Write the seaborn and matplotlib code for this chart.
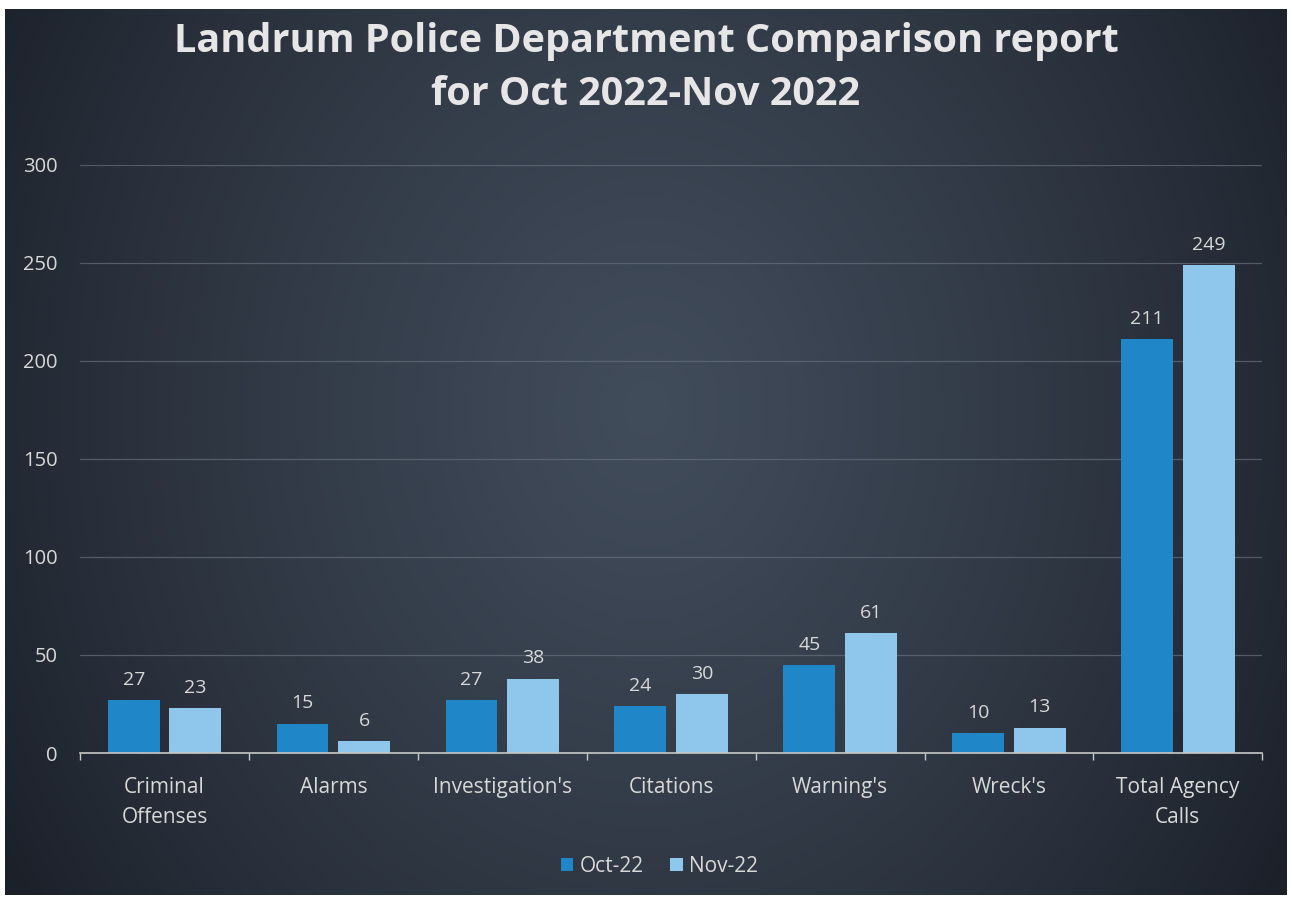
import numpy as np
import pandas as pd
import matplotlib
matplotlib.use("Agg")
import matplotlib.pyplot as plt
import seaborn as sns

categories = ["Criminal\nOffenses", "Alarms", "Investigation's", "Citations",
              "Warning's", "Wreck's", "Total Agency\nCalls"]
oct_vals = [27, 15, 27, 24, 45, 10, 211]
nov_vals = [23, 6, 38, 30, 61, 13, 249]
series = ["Oct-22", "Nov-22"]
colors = ["#1f86c8", "#8ec6ec"]
yticks = [0, 50, 100, 150, 200, 250, 300]

df = pd.DataFrame({
    "cat": categories * 2,
    "val": oct_vals + nov_vals,
    "month": [series[0]] * len(categories) + [series[1]] * len(categories),
})

sns.set_theme(style="dark")
plt.rcParams["font.family"] = ["Open Sans", "DejaVu Sans"]
txt = "#d8d8d8"

fig = plt.figure(figsize=(12.92, 8.99), dpi=100, facecolor="white")

# dark background, lighter in the middle
bg = fig.add_axes([0.004, 0.004, 0.992, 0.986], zorder=0)
h, w = 300, 430
yy, xx = np.mgrid[0:h, 0:w]
cx, cy = w * 0.5, h * 0.45
r = np.sqrt(((xx - cx) / (w * 0.58)) ** 2 + ((yy - cy) / (h * 1.0)) ** 2)
light = np.clip(1 - r, 0, 1)
base0 = np.array([0x1b, 0x20, 0x29]) / 255
base1 = np.array([0x42, 0x4d, 0x5c]) / 255
img = base0 + (base1 - base0) * light[..., None] ** 0.8
bg.imshow(img, aspect="auto", extent=[0, 1, 0, 1])
bg.axis("off")

ax = fig.add_axes([0.062, 0.1624, 0.915, 0.6541], zorder=1)
ax.patch.set_alpha(0)
sns.barplot(data=df, x="cat", y="val", hue="month", palette=colors,
            width=0.73, gap=0.16, ax=ax, saturation=1, legend=True,
            edgecolor="none", linewidth=0)

for cont in ax.containers:
    ax.bar_label(cont, padding=8, color=txt, fontsize=14)

ax.set_ylim(0, 300)
ax.set_xlim(-0.5, 6.5)
ax.set_yticks(yticks)
ax.yaxis.grid(True, color="#66707c", linewidth=0.9, alpha=0.7)
ax.xaxis.grid(False)
ax.set_axisbelow(True)
for s in ["top", "right", "left"]:
    ax.spines[s].set_visible(False)
ax.spines["bottom"].set_color("#c8c8c8")
ax.spines["bottom"].set_linewidth(1.2)
ax.set_xlabel("")
ax.set_ylabel("")
ax.tick_params(axis="x", colors=txt, labelsize=15, length=0, pad=17)
ax.tick_params(axis="y", colors=txt, labelsize=14.5, length=0, pad=16)
ax.set_xticks(np.arange(-0.5, 7, 1), minor=True)
ax.tick_params(axis="x", which="minor", length=5, color="#c8c8c8", bottom=True)
for lbl in ax.get_xticklabels():
    lbl.set_verticalalignment("top")
    lbl.set_linespacing(1.6)

leg = ax.legend(loc="upper center", bbox_to_anchor=(0.49, -0.143), ncol=2,
                frameon=False, fontsize=15, handlelength=0.6, handleheight=0.6,
                handletextpad=0.3, columnspacing=1.3)
for t in leg.get_texts():
    t.set_color(txt)
for p in leg.get_patches():
    p.set_edgecolor("none")

fig.suptitle("Landrum Police Department Comparison report\nfor Oct 2022-Nov 2022",
             y=0.975, fontsize=28.5, fontweight="bold", color="#e6e6e6",
             linespacing=1.45)

fig.savefig("out.png", dpi=100, facecolor=fig.get_facecolor())
